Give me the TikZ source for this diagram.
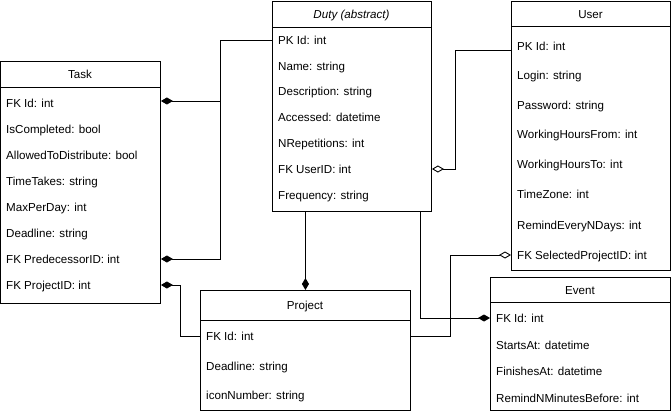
\documentclass[tikz,border=0pt]{standalone}
\usepackage{fontspec}
\setmainfont{Liberation Sans}
\usetikzlibrary{arrows.meta}
\begin{document}
\begin{tikzpicture}[x=1pt,y=-1pt,every node/.style={font=\fontsize{11.6}{14}\selectfont,inner sep=0pt,text height=8.3pt,text depth=0pt},
 box/.style={draw,line width=0.9pt,anchor=north west},
 fld/.style={anchor=west},
 comp/.style={-{Diamond[length=12pt,width=7pt]},line width=0.9pt},
 aggr/.style={-{Diamond[open,length=12pt,width=7pt]},line width=0.9pt}]
\useasboundingbox (0,0) rectangle (671,414);
% Task
\node[box,minimum width=160pt,minimum height=242pt] (task) at (0,61) {};
\draw[line width=0.9pt] (task.north west) ++(0,26) -- ++(160,0);
\node (taskT) at (80,74) {Task};
\node[fld] (tId) at (6,103) {FK Id: int};
\node[fld] (tDone) at (6,129) {IsCompleted: bool};
\node[fld] (tDist) at (6,155) {AllowedToDistribute: bool};
\node[fld] (tTime) at (6,181) {TimeTakes: string};
\node[fld] (tMax) at (6,207) {MaxPerDay: int};
\node[fld] (tDead) at (6,233) {Deadline: string};
\node[fld] (tPred) at (6,259) {FK PredecessorID: int};
\node[fld] (tProj) at (6,285) {FK ProjectID: int};
% Duty
\node[box,minimum width=159pt,minimum height=210pt] (duty) at (272,1) {};
\draw[line width=0.9pt] (duty.north west) ++(0,26) -- ++(159,0);
\node (dutyT) at (351.5,14) {\itshape Duty (abstract)};
\node[fld] (dPk) at (278,40) {PK Id: int};
\node[fld] (dName) at (278,66) {Name: string};
\node[fld] (dDesc) at (278,91.5) {Description: string};
\node[fld] (dAcc) at (278,117) {Accessed: datetime};
\node[fld] (dRep) at (278,143) {NRepetitions: int};
\node[fld] (dUser) at (278,169) {FK UserID: int};
\node[fld] (dFreq) at (278,195) {Frequency: string};
% User
\node[box,minimum width=159pt,minimum height=269pt] (user) at (511,1) {};
\draw[line width=0.9pt] (user.north west) ++(0,25) -- ++(159,0);
\node (userT) at (590.5,14) {User};
\node[fld] (uPk) at (517,46) {PK Id: int};
\node[fld] (uLogin) at (517,75) {Login: string};
\node[fld] (uPass) at (517,105) {Password: string};
\node[fld] (uFrom) at (517,134.5) {WorkingHoursFrom: int};
\node[fld] (uTo) at (517,164.5) {WorkingHoursTo: int};
\node[fld] (uZone) at (517,194.5) {TimeZone: int};
\node[fld] (uRem) at (517,225) {RemindEveryNDays: int};
\node[fld] (uSel) at (517,255) {FK SelectedProjectID: int};
% Project
\node[box,minimum width=210pt,minimum height=120pt] (pro) at (200,290) {};
\draw[line width=0.9pt] (pro.north west) ++(0,30) -- ++(210,0);
\node (proT) at (305,305) {Project};
\node[fld] (pId) at (206,336) {FK Id: int};
\node[fld] (pDead) at (206,366) {Deadline: string};
\node[fld] (pIcon) at (206,395) {iconNumber: string};
% Event
\node[box,minimum width=180pt,minimum height=133pt] (event) at (490,277) {};
\draw[line width=0.9pt] (event.north west) ++(0,25) -- ++(180,0);
\node (eventT) at (580,290) {Event};
\node[fld] (eId) at (496,318) {FK Id: int};
\node[fld] (eStart) at (496,345) {StartsAt: datetime};
\node[fld] (eFin) at (496,371.5) {FinishesAt: datetime};
\node[fld] (eRem) at (496,398) {RemindNMinutesBefore: int};
% links
\draw[comp] (duty.west |- dPk) -- ++(-52,0) |- ([yshift=2pt]task.east |- tId);
\draw[comp] (duty.west |- dPk) -- ++(-52,0) |- (task.east |- tPred);
\draw[aggr] ([yshift=-4pt]user.west |- uPk) -- ++(-56,0) |- (duty.east |- dUser);
\draw[comp] (pro.north |- duty.south) -- (pro.north);
\draw[comp] (pro.west |- pId) -- ++(-20,0) |- (task.east |- tProj);
\draw[comp] ([xshift=-11pt]duty.south east) |- (event.west |- eId);
\draw[aggr] (pro.east |- pId) -- ++(40,0) |- (user.west |- uSel);
\end{tikzpicture}
\end{document}
